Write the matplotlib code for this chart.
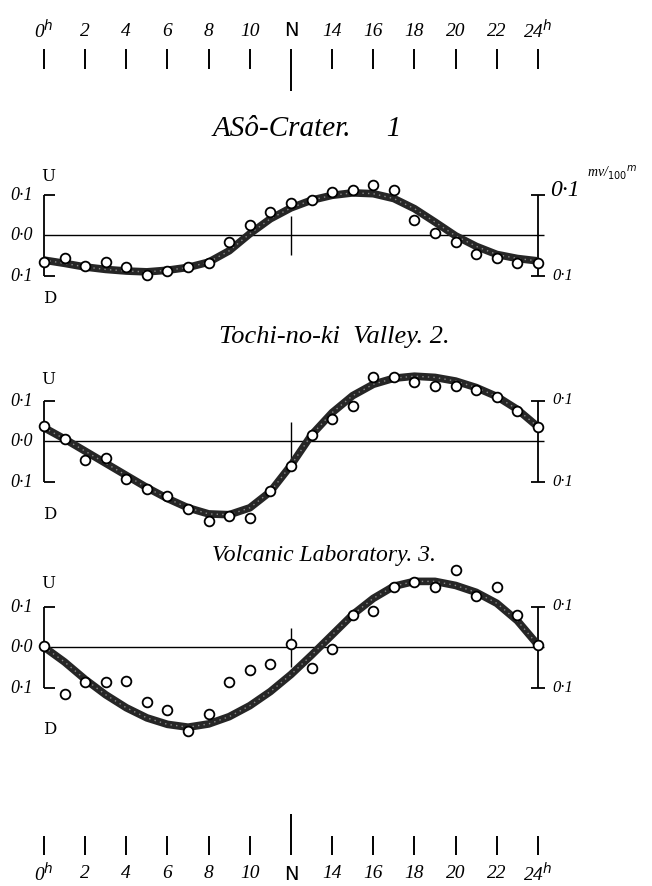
import matplotlib
matplotlib.use("Agg")
import matplotlib.pyplot as plt

# hours of the day, one observation per hour
hours = list(range(25))
scale_hours = [0, 2, 4, 6, 8, 10, 12, 14, 16, 18, 20, 22, 24]
scale_labels = ["0$^h$", "2", "4", "6", "8", "10", "N", "14", "16", "18", "20", "22", "24$^h$"]

titles = ["ASô-Crater.     1", "Tochi-no-ki  Valley. 2.", "Volcanic Laboratory. 3."]

# observed potential gradient, mv/100m
crater_obs = [-0.067, -0.058, -0.077, -0.067, -0.078, -0.098, -0.090, -0.078, -0.068,
              -0.017, 0.025, 0.058, 0.078, 0.086, 0.107, 0.111, 0.123, 0.111,
              0.038, 0.005, -0.017, -0.048, -0.058, -0.070, -0.068]
valley_obs = [0.036, 0.004, -0.046, -0.043, -0.095, -0.119, -0.135, -0.168, -0.197,
              -0.186, -0.191, -0.124, -0.062, 0.016, 0.055, 0.087, 0.157, 0.157,
              0.145, 0.137, 0.137, 0.125, 0.108, 0.075, 0.034]
lab_obs = [0.002, -0.115, -0.086, -0.086, -0.084, -0.135, -0.156, -0.207, -0.166,
           -0.086, -0.056, -0.043, 0.008, -0.053, -0.004, 0.079, 0.088, 0.149,
           0.161, 0.148, 0.189, 0.127, 0.149, 0.078, 0.006]

# smoothed curves drawn through them
crater_curve = [-0.062, -0.070, -0.079, -0.085, -0.089, -0.091, -0.087, -0.080, -0.067,
                -0.039, 0.003, 0.040, 0.067, 0.086, 0.098, 0.104, 0.102, 0.090,
                0.065, 0.032, -0.002, -0.028, -0.048, -0.058, -0.064]
valley_curve = [0.033, 0.005, -0.025, -0.055, -0.085, -0.115, -0.142, -0.165, -0.180,
                -0.182, -0.165, -0.125, -0.060, 0.015, 0.070, 0.112, 0.140, 0.155,
                0.160, 0.157, 0.148, 0.132, 0.110, 0.078, 0.035]
lab_curve = [0.000, -0.037, -0.080, -0.118, -0.150, -0.175, -0.191, -0.198, -0.190,
             -0.172, -0.145, -0.110, -0.068, -0.020, 0.030, 0.080, 0.120, 0.150,
             0.162, 0.162, 0.152, 0.135, 0.108, 0.065, 0.005]

panels = [(crater_obs, crater_curve), (valley_obs, valley_curve), (lab_obs, lab_curve)]

W, H = 652, 887
X0, PX_HOUR = 44, 20.58      # pixel of hour 0, pixels per hour
PX_MV = 405                  # pixels per mv
zero_rows = [236, 442, 648]
xlim = (-X0 / PX_HOUR, (W - X0) / PX_HOUR)

hand = dict(family="Liberation Serif", style="italic", color="black")

fig = plt.figure(figsize=(W / 100, H / 100), dpi=100)
fig.patch.set_facecolor("white")


def band(top, bottom):
    ax = fig.add_axes([0, 1 - bottom / H, 1, (bottom - top) / H])
    ax.set_xlim(*xlim)
    ax.axis("off")
    return ax


# hour scales, top and bottom
for top, bottom, tick, ntick, label_y in [(0, 110, (50, 70), (50, 92), 31),
                                           (790, 887, (837, 856), (815, 856), 874)]:
    ax = band(top, bottom)
    ax.set_ylim(bottom, top)
    for h, lab in zip(scale_hours, scale_labels):
        y0, y1 = ntick if lab == "N" else tick
        ax.vlines(h, y0, y1, color="black", lw=1.4)
        ax.text(h, label_y, lab, ha="center", va="center", fontsize=14,
                family="DejaVu Sans" if lab == "N" else "Liberation Serif",
                style="normal" if lab == "N" else "italic")

title_rows = [0.265, 0.260, 0.228]
title_sizes = [21, 19, 17]
title_hours = [12.8, 14.1, 13.6]
u_rows = [0.148, 0.155, 0.160]
d_rows = [-0.154, -0.178, -0.200]

for i, ((obs, curve), z) in enumerate(zip(panels, zero_rows)):
    ax = band(z - 115, z + 115)
    ax.set_ylim(-115 / PX_MV, 115 / PX_MV)
    ax.hlines(0, 0, 24.3, color="black", lw=1.0)
    ax.vlines(12, -0.05, 0.048, color="black", lw=1.0)
    # left scale bracket
    ax.vlines(0, -0.1, 0.1, color="black", lw=1.3)
    ax.hlines([0.1, -0.1], 0, 0.55, color="black", lw=1.3)
    # right scale bracket
    ax.vlines(24, -0.1, 0.1, color="black", lw=1.3)
    ax.hlines([0.1, -0.1], 23.65, 24.35, color="black", lw=1.3)

    ax.plot(hours, curve, color="#262626", lw=5.5, solid_capstyle="butt",
            solid_joinstyle="round", zorder=2)
    ax.plot(hours, curve, color="#8a8a8a", lw=1.0, ls=(0, (1, 3)), zorder=2)
    ax.plot(hours, obs, "o", ms=7, mfc="white", mec="black", mew=1.3, zorder=3)

    ax.text(-1.1, 0.1, "0·1", ha="center", va="center", fontsize=13, **hand)
    ax.text(-1.1, 0.0, "0·0", ha="center", va="center", fontsize=13, **hand)
    ax.text(-1.1, -0.1, "0·1", ha="center", va="center", fontsize=13, **hand)
    ax.text(0.2, u_rows[i], "U", ha="center", va="center", fontsize=12, family="DejaVu Serif")
    ax.text(0.3, d_rows[i], "D", ha="center", va="center", fontsize=12, family="DejaVu Serif")
    ax.text(25.2, -0.1, "0·1", ha="center", va="center", fontsize=12, **hand)
    if i == 0:
        ax.text(25.3, 0.113, "0·1", ha="center", va="center", fontsize=17, **hand)
        ax.text(26.4, 0.155, "mv/$_{100}$$^m$", ha="left", va="center", fontsize=10, **hand)
    else:
        ax.text(25.2, 0.103, "0·1", ha="center", va="center", fontsize=12, **hand)

    ax.text(title_hours[i], title_rows[i], titles[i], ha="center", va="center",
            fontsize=title_sizes[i], clip_on=False, **hand)

fig.savefig("out.png", dpi=100, facecolor="white")
